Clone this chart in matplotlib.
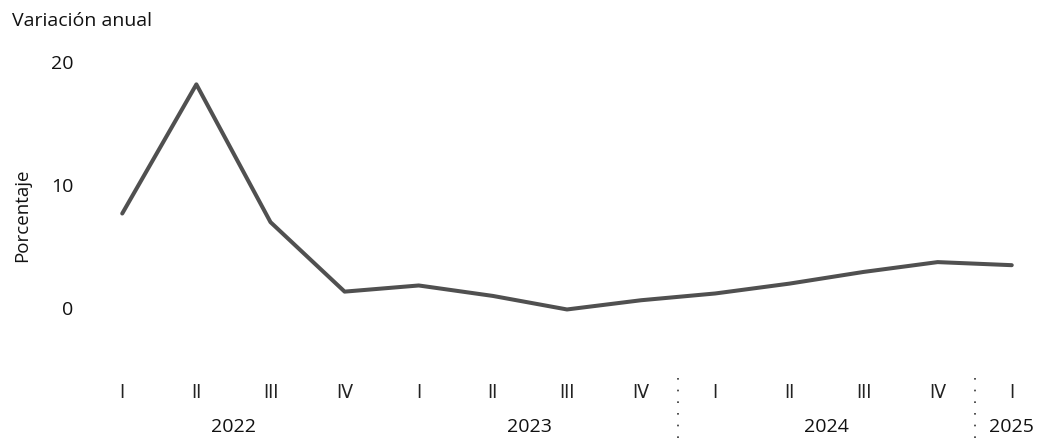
import matplotlib
matplotlib.use("Agg")
import matplotlib.pyplot as plt

plt.rcParams['font.family'] = ['Open Sans', 'DejaVu Sans']

quarters = ["I", "II", "III", "IV", "I", "II", "III", "IV", "I", "II", "III", "IV", "I"]
years = ["2022", "2023", "2024", "2025"]
year_centers = [1.5, 5.5, 9.5, 12.0]
values = [7.6, 18.1, 6.9, 1.25, 1.75, 0.9, -0.2, 0.55, 1.1, 1.9, 2.85, 3.65, 3.4]
yticks = [0, 10, 20]
separators = [7.5, 11.5]

W, H = 1044, 439
fig = plt.figure(figsize=(W / 100, H / 100), dpi=100)
ax = fig.add_axes([100 / W, 1 - 369.5 / H, (1034 - 100) / W, (369.5 - 49.7) / H])

x = list(range(len(values)))
ax.plot(x, values, color="#505050", lw=2.9, solid_joinstyle="round", solid_capstyle="round")

ax.set_xlim(-0.3, 12.3)
ax.set_ylim(-5, 21)
for s in ax.spines.values():
    s.set_visible(False)

ax.set_yticks(yticks)
ax.set_yticklabels([str(v) for v in yticks], fontsize=14, color="#111111")
ax.tick_params(axis="y", length=0, pad=19)

ax.set_xticks(x)
ax.set_xticklabels(quarters, fontsize=14, color="#222222", family=["DejaVu Sans"], fontstretch="condensed")
ax.tick_params(axis="x", length=0, pad=10)

trans = ax.get_xaxis_transform()
for yr, c in zip(years, year_centers):
    ax.text(c, -0.18, yr, transform=trans, ha="center", va="center", fontsize=14, color="#111111", clip_on=False)

for s in separators:
    ax.plot([s, s], [-0.03, -0.22], transform=trans, color="#333333", lw=1.2,
            linestyle=(0, (1, 6)), clip_on=False)

fig.text(12 / W, 1 - 21 / H, "Variación anual", ha="left", va="center", fontsize=14, color="#111111")
fig.text(22 / W, 1 - 215 / H, "Porcentaje", ha="center", va="center", rotation=90, fontsize=13.5, color="#111111")

fig.savefig("out.png", dpi=100, facecolor="white")
